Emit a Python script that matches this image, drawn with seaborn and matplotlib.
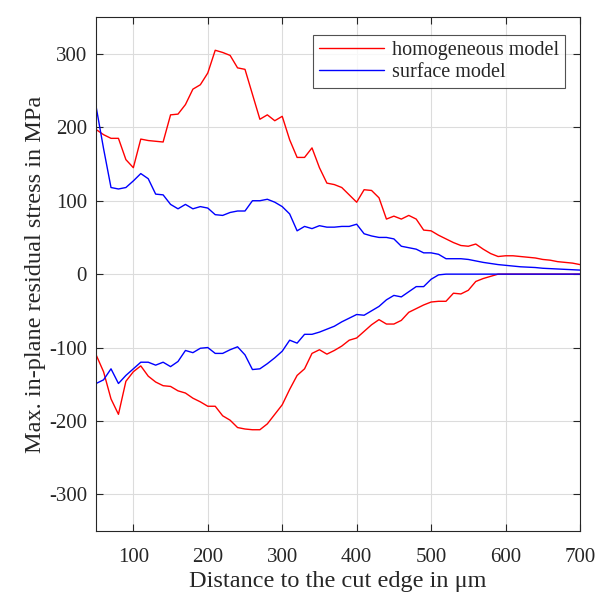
import numpy as np
import pandas as pd
import matplotlib
matplotlib.use("Agg")
import matplotlib.pyplot as plt
import seaborn as sns

distance = list(range(50, 701, 10))

homog_upper = [197, 190, 185, 185, 156, 145, 184, 182, 181, 180, 217, 218, 231, 252, 258, 274,
               305, 302, 298, 281, 279, 245, 211, 217, 209, 215, 183, 159, 159, 172, 145, 124,
               122, 118, 108, 98, 115, 114, 104, 75, 79, 75, 80, 75, 60, 59, 53, 48, 43, 39,
               38, 41, 34, 28, 24, 25, 25, 24, 23, 22, 20, 19, 17, 16, 15, 13]
homog_lower = [-110, -133, -170, -191, -146, -133, -125, -139, -147, -152, -153, -159, -162,
               -169, -174, -180, -180, -193, -199, -209, -211, -212, -212, -204, -191, -178,
               -157, -138, -129, -108, -103, -109, -104, -98, -90, -87, -78, -69, -62, -68,
               -68, -63, -52, -47, -42, -38, -37, -37, -26, -27, -22, -10, -6, -3, 0, 0, 0,
               0, 0, 0, 0, 0, 0, 0, 0, 0]
surf_upper = [228, 171, 118, 116, 118, 127, 137, 130, 109, 108, 95, 89, 95, 89, 92, 90, 81,
              80, 84, 86, 86, 100, 100, 102, 98, 92, 82, 59, 65, 62, 66, 64, 64, 65, 65, 68,
              55, 52, 50, 50, 48, 38, 36, 34, 29, 29, 27, 21, 21, 21, 20, 18, 16, 14.5, 13,
              12, 11, 10, 9.5, 9, 8, 7.5, 7, 6.5, 6, 5.5]
surf_lower = [-149, -144, -129, -149, -138, -129, -120, -120, -124, -120, -126, -119, -104,
              -107, -101, -100, -108, -108, -103, -99, -110, -130, -129, -122, -114, -105,
              -90, -94, -82, -82, -79, -75, -71, -65, -60, -55, -56, -50, -44, -35, -29, -31,
              -24, -17, -17, -7, -1, 0, 0, 0, 0, 0, 0, 0, 0, 0, 0, 0, 0, 0, 0, 0, 0, 0, 0, 0]

x_ticks = [100, 200, 300, 400, 500, 600, 700]
y_ticks = [-300, -200, -100, 0, 100, 200, 300]

sns.set_style("ticks")
plt.rcParams['font.family'] = ['Liberation Serif', 'DejaVu Serif']
plt.rcParams['axes.unicode_minus'] = False

fig = plt.figure(figsize=(5.97, 5.94), dpi=100)
ax = fig.add_axes([0.161, 0.106, 0.8105, 0.865])

red = (1, 0, 0)
blue = (0, 0, 1)
lw = 1.0
sns.lineplot(x=distance, y=homog_upper, ax=ax, color=red, lw=lw, label="homogeneous model")
sns.lineplot(x=distance, y=surf_upper, ax=ax, color=blue, lw=lw, label="surface model")
sns.lineplot(x=distance, y=homog_lower, ax=ax, color=red, lw=lw, label="_nolegend_")
sns.lineplot(x=distance, y=surf_lower, ax=ax, color=blue, lw=lw, label="_nolegend_")

ax.set_xlim(50, 700)
ax.set_ylim(-350, 350)
ax.set_xticks(x_ticks)
ax.set_yticks(y_ticks)
ax.grid(True, color="#dcdcdc", lw=0.8)
ax.set_axisbelow(True)
for s in ax.spines.values():
    s.set_color("#262626")
    s.set_linewidth(0.8)
    s.set_visible(True)
ax.tick_params(direction="in", top=True, right=True, length=5, width=0.8,
               colors="#262626", labelsize=15)
ax.tick_params(axis="x", pad=12.5)
ax.tick_params(axis="y", pad=6.5)
ax.set_xlabel("Distance to the cut edge in μm", fontsize=17.5, color="#262626", labelpad=2.5)
ax.set_ylabel("Max. in-plane residual stress in MPa", fontsize=17.5, color="#262626", labelpad=2)

leg = ax.legend(loc="upper right", bbox_to_anchor=(0.9685, 0.966), fontsize=14.5,
                frameon=True, fancybox=False, edgecolor="#262626", handlelength=3.2,
                borderpad=0.3, labelspacing=0.15, handletextpad=0.4, borderaxespad=0)
leg.get_frame().set_linewidth(0.8)

fig.savefig("out.png", dpi=100)
